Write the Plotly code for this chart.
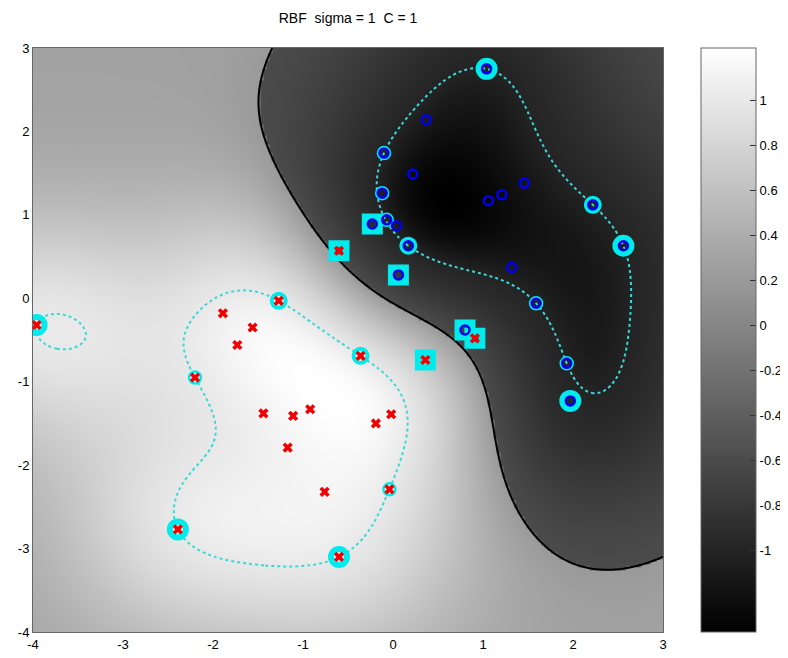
import numpy as np
import plotly.graph_objects as go

# ---- data ----
red_x = [-3.96, -1.89, -1.56, -1.73, -1.27, -0.36, -2.20, -1.44, -1.11, -0.92,
         -0.19, -0.02, -1.17, -0.76, -0.04, -2.39, -0.60, -0.60, 0.36, 0.91]
red_y = [-0.32, -0.18, -0.35, -0.56, -0.03, -0.69, -0.95, -1.38, -1.41, -1.33,
         -1.50, -1.39, -1.79, -2.32, -2.29, -2.77, -3.10, 0.57, -0.74, -0.48]
blue_x = [1.04, 0.37, -0.10, 0.22, 1.46, 1.21, 1.06, 2.22, 2.56, -0.12,
          -0.07, 0.04, 0.17, 0.06, -0.23, 1.32, 1.59, 1.93, 1.97, 0.80]
blue_y = [2.75, 2.14, 1.74, 1.49, 1.38, 1.24, 1.17, 1.12, 0.63, 1.26,
          0.94, 0.87, 0.63, 0.28, 0.89, 0.37, -0.06, -0.78, -1.23, -0.38]

# support vectors on the margin (ringed), by ring size
sv_large_x = [1.04, 2.56, 1.97, -3.96, -2.39, -0.60]
sv_large_y = [2.75, 0.63, -1.23, -0.32, -2.77, -3.10]
sv_mid_x = [2.22, -1.27, -0.36, 0.17]
sv_mid_y = [1.12, -0.03, -0.69, 0.63]
sv_small_x = [-0.10, -0.12, -0.07, 1.59, 1.93, -2.20, -0.04]
sv_small_y = [1.74, 1.26, 0.94, -0.06, -0.78, -0.95, -2.29]
# bounded support vectors (squares)
sv_box_x = [-0.60, -0.23, 0.06, 0.36, 0.80, 0.91]
sv_box_y = [0.57, 0.89, 0.28, -0.74, -0.38, -0.48]

sigma = 1.0
C = 1.0
cbar_ticks = [-1, -0.8, -0.6, -0.4, -0.2, 0, 0.2, 0.4, 0.6, 0.8, 1]
cbar_text = ['-1', '-0.8', '-0.6', '-0.4', '-0.2', '0', '0.2', '0.4', '0.6', '0.8', '1']
axis_ticks = [-4, -3, -2, -1, 0, 1, 2, 3]

# ---- train the RBF SVM (SMO) on the read points ----
X = np.column_stack([red_x + blue_x, red_y + blue_y])
Y = np.array([1.0] * len(red_x) + [-1.0] * len(blue_x))


def kern(A, B):
    d2 = ((A[:, None, :] - B[None, :, :]) ** 2).sum(-1)
    return np.exp(-d2 / (2 * sigma ** 2))


K = kern(X, X)
Q = (Y[:, None] * Y[None, :]) * K
n = len(Y)
a = np.zeros(n)
G = -np.ones(n)
eps = 1e-12
for it in range(200000):
    up = ((Y > 0) & (a < C - eps)) | ((Y < 0) & (a > eps))
    low = ((Y > 0) & (a > eps)) | ((Y < 0) & (a < C - eps))
    v = -Y * G
    vi = np.where(up, v, -np.inf)
    vj = np.where(low, v, np.inf)
    i = int(np.argmax(vi))
    j = int(np.argmin(vj))
    if vi[i] - vj[j] < 1e-7:
        break
    ai0, aj0 = a[i], a[j]
    if Y[i] != Y[j]:
        quad = max(Q[i, i] + Q[j, j] + 2 * Q[i, j], 1e-12)
        delta = (-G[i] - G[j]) / quad
        diff = a[i] - a[j]
        a[i] += delta
        a[j] += delta
        if diff > 0:
            if a[j] < 0:
                a[j] = 0
                a[i] = diff
        else:
            if a[i] < 0:
                a[i] = 0
                a[j] = -diff
        if diff > 0:
            if a[i] > C:
                a[i] = C
                a[j] = C - diff
        else:
            if a[j] > C:
                a[j] = C
                a[i] = C + diff
    else:
        quad = max(Q[i, i] + Q[j, j] - 2 * Q[i, j], 1e-12)
        delta = (G[i] - G[j]) / quad
        s = a[i] + a[j]
        a[i] -= delta
        a[j] += delta
        if s > C:
            if a[i] > C:
                a[i] = C
                a[j] = s - C
        else:
            if a[j] < 0:
                a[j] = 0
                a[i] = s
        if s > C:
            if a[j] > C:
                a[j] = C
                a[i] = s - C
        else:
            if a[i] < 0:
                a[i] = 0
                a[j] = s
    G += Q[:, i] * (a[i] - ai0) + Q[:, j] * (a[j] - aj0)

free = (a > 1e-6) & (a < C - 1e-6)
b = float(np.mean(-Y[free] * G[free])) if free.any() else 0.0

gx = np.linspace(-4, 3, 211)
gy = np.linspace(-4, 3, 211)
GX, GY = np.meshgrid(gx, gy)
P = np.column_stack([GX.ravel(), GY.ravel()])
F = (kern(P, X) @ (a * Y) + b).reshape(GX.shape)
zmin, zmax = float(F.min()), float(F.max())

# shading as in the reference: contrast is stepped across the f = 0 boundary
shade = np.where(F >= 0, F + 0.2 * np.clip(1 - F, 0, None),
                 F - 0.6 * np.clip(1 + F, 0, None))

# the page body has an 8px margin, so figure pixels = page pixels - 8
FIG_W, FIG_H = 780, 650
PX_L, PX_R, PX_T, PX_B = 25, 655, 40, 624
pw = PX_R - PX_L

fig = go.Figure()
fig.add_trace(go.Heatmap(
    x=gx, y=gy, z=shade, zsmooth='best', zmin=zmin, zmax=zmax,
    colorscale=[[0, 'black'], [1, 'white']],
    colorbar=dict(x=(693 - PX_L) / pw, xanchor='left', thickness=55, xpad=0, ypad=0,
                  len=1, lenmode='fraction', y=0.5, yanchor='middle',
                  tickvals=cbar_ticks, ticktext=cbar_text,
                  ticks='inside', ticklen=6, tickcolor='#333',
                  outlinecolor='#666', outlinewidth=1,
                  tickfont=dict(size=13, color='black', family='Liberation Sans')),
    showscale=True, hoverinfo='skip'))
fig.add_trace(go.Contour(
    x=gx, y=gy, z=F, contours=dict(start=0, end=0, size=1, coloring='none'),
    line=dict(color='black', width=2), showscale=False, hoverinfo='skip'))
fig.add_trace(go.Contour(
    x=gx, y=gy, z=F, contours=dict(start=-1, end=1, size=2, coloring='none'),
    line=dict(color='rgb(60,215,215)', width=2, dash='dot'),
    showscale=False, hoverinfo='skip'))

cy = 'rgb(0,235,235)'
fig.add_trace(go.Scatter(x=sv_large_x, y=sv_large_y, mode='markers',
                         marker=dict(symbol='circle-open', size=16, color=cy,
                                     line=dict(width=6, color=cy))))
fig.add_trace(go.Scatter(x=sv_mid_x, y=sv_mid_y, mode='markers',
                         marker=dict(symbol='circle-open', size=14, color=cy,
                                     line=dict(width=4, color=cy))))
fig.add_trace(go.Scatter(x=sv_small_x, y=sv_small_y, mode='markers',
                         marker=dict(symbol='circle-open', size=12, color=cy,
                                     line=dict(width=2.5, color=cy))))
fig.add_trace(go.Scatter(x=sv_box_x, y=sv_box_y, mode='markers',
                         marker=dict(symbol='square-open', size=14, color=cy,
                                     line=dict(width=7, color=cy))))
fig.add_trace(go.Scatter(x=red_x, y=red_y, mode='markers',
                         marker=dict(symbol='x', size=9, color='rgb(240,0,0)',
                                     line=dict(width=0))))
fig.add_trace(go.Scatter(x=blue_x, y=blue_y, mode='markers',
                         marker=dict(symbol='circle-open', size=9, color='rgb(0,0,240)',
                                     line=dict(width=2.5, color='rgb(0,0,240)'))))

# tick marks on the left edge of the colour bar
cb_x0 = (693 - PX_L) / pw
cb_x1 = (699 - PX_L) / pw
for t in cbar_ticks:
    yy = (t - zmin) / (zmax - zmin)
    fig.add_shape(type='line', xref='paper', yref='paper', x0=cb_x0, x1=cb_x1,
                  y0=yy, y1=yy, line=dict(color='#333', width=1))

axis_common = dict(tickvals=axis_ticks, ticktext=[str(t) for t in axis_ticks],
                   showgrid=False, zeroline=False, showline=True, linecolor='#666',
                   linewidth=1, mirror=True, ticks='', ticklen=0,
                   tickfont=dict(size=13, color='black', family='Liberation Sans'))
fig.update_layout(
    width=FIG_W, height=FIG_H,
    margin=dict(l=PX_L, r=FIG_W - PX_R, t=PX_T, b=FIG_H - PX_B, autoexpand=False),
    paper_bgcolor='white', plot_bgcolor='white',
    showlegend=False,
    title=dict(text='RBF\u00a0\u00a0sigma = 1\u00a0\u00a0C = 1',
               x=(PX_L + pw / 2) / FIG_W, xanchor='center',
               y=1 - 10 / FIG_H, yanchor='middle',
               font=dict(size=14, color='black', family='Liberation Sans')),
)
fig.update_xaxes(**{**axis_common, 'range': [-4, 3]})
fig.update_yaxes(**{**axis_common, 'range': [-4, 3]})
fig.write_html('out.html')
